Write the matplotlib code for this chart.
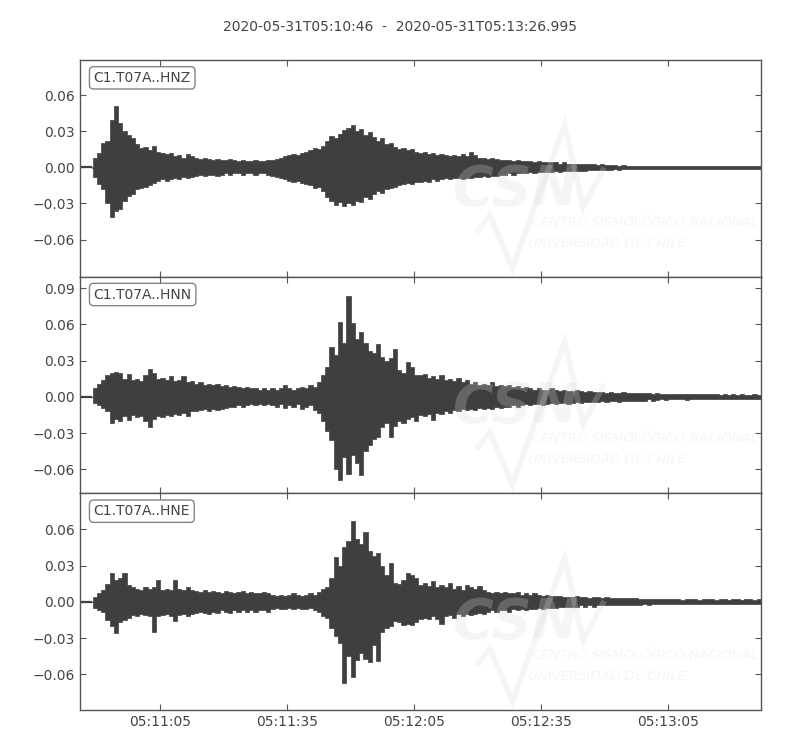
import datetime as dt
import numpy as np
import matplotlib
matplotlib.use("Agg")
import matplotlib.pyplot as plt
import matplotlib.dates as mdates
from matplotlib.ticker import FuncFormatter

# ---------------- data ----------------
TITLE = "2020-05-31T05:10:46  -  2020-05-31T05:13:26.995"
START = dt.datetime(2020, 5, 31, 5, 10, 46)
DURATION_S = 160.995
CHANNELS = ["C1.T07A..HNZ", "C1.T07A..HNN", "C1.T07A..HNE"]

# 1-second envelopes (units of 1e-3), value i is for second i..i+1
HNZ_MAX = [0.3, 0.3, 0.3, 8, 12, 20, 22, 39, 51, 37,
           30, 27, 24, 19, 16, 17, 14, 18, 13, 12,
           11, 12, 9, 10, 8, 11, 9, 8, 7, 8,
           7, 6, 7, 6, 6, 7, 6, 5, 6, 5,
           5, 6, 5, 5, 6, 6, 7, 8, 9, 10,
           11, 10, 12, 13, 14, 16, 15, 18, 22, 26,
           24, 28, 31, 33, 35, 30, 32, 27, 29, 25,
           22, 24, 19, 20, 17, 15, 16, 14, 15, 13,
           12, 13, 11, 12, 10, 11, 10, 9, 10, 9,
           11, 9, 13, 10, 8, 8, 7, 8, 7, 6,
           6, 6, 5, 6, 5, 5, 5, 4, 5, 4,
           4, 4, 4, 3, 4, 3, 3, 3, 3, 3,
           3, 2.5, 2, 2.5, 2, 2, 2, 1.5, 2, 1.5,
           1.5, 1.5, 1.5, 1.5, 1.2, 1.5, 1.5, 1.2, 1.5, 1.2,
           1.2, 1.2, 1.5, 1.2, 1.2, 1.5, 1.2, 1.2, 1.5, 1.2,
           1.2, 1.2, 1.5, 1.2, 1.2, 1.2, 1.2, 1.5, 1.2, 1.2,
           1.2]
HNZ_MIN = [0.3, 0.3, 0.3, 8, 14, 18, 30, 41, 36, 35,
           28, 24, 22, 18, 17, 16, 15, 13, 11, 10,
           11, 10, 9, 10, 8, 9, 8, 7, 6, 7,
           6, 6, 7, 6, 5, 6, 5, 5, 6, 5,
           5, 6, 5, 5, 6, 7, 8, 9, 10, 11,
           12, 11, 13, 14, 15, 17, 16, 20, 25, 28,
           31, 29, 32, 30, 31, 28, 29, 25, 26, 22,
           20, 21, 18, 17, 16, 15, 14, 13, 14, 12,
           12, 11, 12, 10, 11, 10, 9, 10, 9, 9,
           10, 9, 9, 8, 8, 7, 8, 7, 7, 6,
           6, 5, 6, 5, 5, 5, 4, 5, 4, 4,
           4, 4, 3, 4, 3, 3, 3, 3, 3, 3,
           2.5, 2, 2.5, 2, 2, 2, 1.5, 2, 1.5, 1.5,
           1.5, 1.5, 1.2, 1.5, 1.5, 1.2, 1.5, 1.2, 1.2, 1.5,
           1.2, 1.2, 1.2, 1.5, 1.2, 1.2, 1.2, 1.5, 1.2, 1.2,
           1.2, 1.5, 1.2, 1.2, 1.2, 1.2, 1.5, 1.2, 1.2, 1.2,
           1.2]
HNN_MAX = [0.3, 0.3, 0.3, 7, 11, 14, 18, 20, 21, 20,
           15, 19, 14, 15, 13, 18, 23, 20, 15, 16,
           14, 17, 13, 14, 17, 12, 13, 11, 12, 10,
           11, 10, 11, 9, 10, 8, 9, 8, 7, 8,
           7, 7, 6, 7, 6, 7, 6, 7, 10, 7,
           6, 7, 8, 7, 10, 8, 12, 18, 25, 41,
           35, 62, 45, 84, 61, 48, 54, 45, 38, 36,
           44, 33, 30, 32, 40, 22, 20, 29, 25, 18,
           18, 19, 16, 17, 15, 18, 14, 15, 13, 16,
           12, 14, 11, 12, 10, 11, 10, 12, 9, 10,
           9, 10, 8, 9, 7, 8, 7, 6, 7, 6,
           6, 7, 6, 5, 6, 5, 5, 6, 5, 4,
           5, 4, 4, 4, 3, 4, 3, 3, 4, 3,
           3, 3, 3, 3, 3, 2.5, 3, 2.5, 2, 2.5,
           2, 2, 2.5, 2, 2, 2, 2, 2, 2, 2,
           2, 1.5, 2, 1.5, 2, 1.5, 2, 1.5, 1.5, 2,
           1.5]
HNN_MIN = [0.3, 0.3, 0.3, 5, 7, 9, 12, 22, 18, 20,
           16, 19, 15, 17, 16, 20, 25, 18, 16, 17,
           15, 16, 14, 15, 13, 16, 12, 12, 11, 10,
           12, 10, 11, 10, 9, 8, 8, 7, 8, 7,
           6, 7, 6, 7, 6, 7, 8, 6, 9, 7,
           8, 6, 10, 8, 7, 11, 13, 20, 28, 36,
           60, 69, 50, 64, 48, 55, 65, 45, 40, 35,
           33, 25, 22, 33, 24, 20, 22, 18, 17, 20,
           15, 16, 14, 19, 13, 14, 12, 13, 11, 12,
           10, 11, 10, 11, 9, 10, 9, 10, 8, 9,
           8, 8, 7, 8, 7, 6, 7, 6, 6, 7,
           6, 5, 6, 5, 5, 6, 5, 4, 5, 4,
           4, 4, 4, 3, 4, 3, 3, 4, 3, 3,
           3, 3, 3, 3, 2, 3, 2.5, 2, 2.5, 2,
           2, 2, 2, 2.5, 2, 2, 2, 2, 2, 2,
           2, 1.5, 2, 1.5, 2, 1.5, 2, 1.5, 2, 1.5,
           1.5]
HNE_MAX = [0.3, 0.3, 0.3, 4, 7, 10, 15, 24, 18, 20,
           24, 14, 12, 11, 10, 12, 11, 12, 18, 10,
           11, 10, 18, 11, 10, 12, 10, 9, 8, 10,
           8, 9, 8, 7, 9, 8, 7, 8, 9, 7,
           8, 7, 7, 8, 7, 6, 5, 6, 5, 6,
           7, 6, 5, 6, 7, 6, 8, 11, 12, 20,
           37, 30, 45, 50, 67, 52, 48, 58, 42, 38,
           40, 30, 22, 32, 16, 15, 18, 24, 22, 20,
           14, 16, 13, 17, 12, 14, 12, 16, 11, 13,
           10, 14, 12, 11, 13, 10, 8, 7, 8, 7,
           8, 7, 7, 8, 6, 7, 6, 7, 6, 5,
           6, 5, 5, 5, 4, 4, 4, 5, 4, 4,
           3, 4, 4, 3, 4, 3, 3, 3, 3, 3,
           3, 3, 2.5, 2, 2.5, 2, 2, 2, 2, 2,
           2, 2, 1.5, 2, 2, 2, 1.5, 2, 2, 2,
           1.5, 2, 2, 1.5, 2, 2, 1.5, 2, 2, 1.5,
           2]
HNE_MIN = [0.3, 0.3, 0.3, 5, 7, 8, 15, 20, 26, 17,
           15, 13, 11, 12, 10, 11, 12, 25, 12, 11,
           10, 12, 16, 11, 10, 12, 10, 9, 8, 9,
           10, 8, 9, 7, 8, 9, 7, 8, 7, 8,
           7, 8, 7, 7, 8, 6, 5, 6, 6, 5,
           6, 5, 6, 6, 5, 7, 8, 12, 13, 22,
           28, 34, 67, 45, 62, 48, 42, 47, 50, 36,
           49, 25, 22, 20, 16, 17, 19, 18, 19, 17,
           14, 13, 14, 12, 14, 18, 12, 11, 13, 10,
           12, 10, 11, 10, 9, 10, 8, 7, 8, 7,
           7, 8, 6, 7, 6, 7, 6, 6, 5, 6,
           5, 5, 5, 4, 4, 4, 4, 4, 3, 4,
           3, 4, 3, 3, 3, 3, 3, 3, 3, 3,
           3, 3, 2.5, 2, 2.5, 2, 2, 2, 2, 2,
           2, 2, 2, 1.5, 2, 2, 2, 2, 1.5, 2,
           2, 2, 1.5, 2, 2, 1.5, 2, 2, 1.5, 2,
           2]
ONSET_S = 2.8   # first motion, seconds after start (flat trace before)
UNIT = 1e-3
ENV_MAX = [HNZ_MAX, HNN_MAX, HNE_MAX]
ENV_MIN = [HNZ_MIN, HNN_MIN, HNE_MIN]
YLIMS = [(-0.0908, 0.0891), (-0.0799, 0.0996), (-0.0894, 0.0897)]
YTICKS = [[-0.06, -0.03, 0.0, 0.03, 0.06],
          [-0.06, -0.03, 0.0, 0.03, 0.06, 0.09],
          [-0.06, -0.03, 0.0, 0.03, 0.06]]

# ---------------- style ----------------
TRACE = "#3f3f3f"
TEXT = "#444444"
SPINE = "#555555"
WM = "#d8d8d8"
WM_ALPHA = 0.25

fig = plt.figure(figsize=(8, 7.5), dpi=100)
axes = fig.subplots(3, 1, sharex=True)
fig.subplots_adjust(left=0.1, right=0.951, top=0.92, bottom=0.0533, hspace=0)

start_num = mdates.date2num(START)
end_num = mdates.date2num(START + dt.timedelta(seconds=DURATION_S))


def fmt_y(v, pos):
    if abs(v) < 1e-9:
        return "0.00"
    return f"{v:.2f}".replace("-", "\u2212")


for ax, hi, lo, ylim, yt, label in zip(axes, ENV_MAX, ENV_MIN, YLIMS, YTICKS, CHANNELS):
    n = len(hi)
    hi_a = np.asarray(hi, float) * UNIT
    lo_a = -np.asarray(lo, float) * UNIT
    # bin edges in seconds; bins before the onset are a flat line
    edges = np.arange(n + 1, dtype=float)
    edges[-1] = DURATION_S
    keep = edges[:-1] >= np.floor(ONSET_S)
    e0 = np.concatenate([[ONSET_S], edges[:-1][keep][1:], [DURATION_S]])
    up = np.append(hi_a[keep], hi_a[-1])
    dn = np.append(lo_a[keep], lo_a[-1])
    ax.plot(start_num + np.array([0.0, ONSET_S]) / 86400.0, [0, 0],
            color=TRACE, lw=1.6, zorder=2, solid_capstyle="butt")
    ax.fill_between(start_num + e0 / 86400.0, dn, up, step="post",
                    color=TRACE, edgecolor=TRACE, linewidth=0.5, zorder=2)

    # faint watermark
    kw = dict(transform=ax.transAxes, color=WM, alpha=WM_ALPHA, zorder=3, clip_on=True)
    ax.text(0.548, 0.331, "CSN", fontsize=40, fontweight="bold",
            fontstyle="italic", ha="left", va="baseline", **kw)
    ax.plot([0.585, 0.602, 0.635, 0.712, 0.739, 0.768],
            [0.215, 0.284, 0.040, 0.700, 0.322, 0.492],
            lw=4, solid_joinstyle="miter", **kw)
    ax.text(0.664, 0.252, "CENTRO SISMOLÓGICO NACIONAL", fontsize=9.5,
            fontstyle="italic", ha="left", va="center", **kw)
    ax.text(0.658, 0.155, "UNIVERSIDAD DE CHILE", fontsize=9.5,
            fontstyle="italic", ha="left", va="center", **kw)

    ax.text(0.02, 0.95, label, transform=ax.transAxes, fontsize=10, color=TEXT,
            ha="left", va="top", zorder=5,
            bbox=dict(boxstyle="round", fc="w", ec="#666666", alpha=0.8))

    ax.set_ylim(*ylim)
    ax.set_yticks(yt)
    ax.yaxis.set_major_formatter(FuncFormatter(fmt_y))
    ax.tick_params(direction="in", top=True, right=True, length=4, width=0.8,
                   color=SPINE, labelcolor=TEXT, labelsize=10)
    for sp in ax.spines.values():
        sp.set_color(SPINE)
        sp.set_linewidth(1.0)

ax = axes[-1]
ax.set_xlim(start_num, end_num)
ax.xaxis.set_major_locator(mdates.SecondLocator(bysecond=[5, 35]))
ax.xaxis.set_major_formatter(mdates.DateFormatter("%H:%M:%S"))
for a in axes[:-1]:
    a.tick_params(labelbottom=False)

fig.suptitle(TITLE, y=0.973, fontsize=10, color=TEXT)
fig.savefig("out.png", dpi=100)
